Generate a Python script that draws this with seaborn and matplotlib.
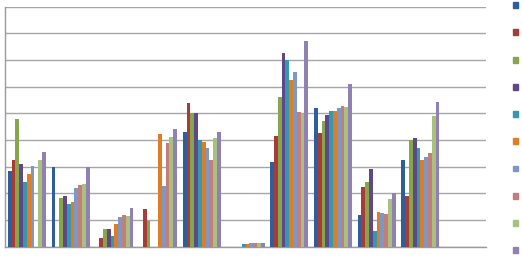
import numpy as np
import pandas as pd
import matplotlib
matplotlib.use("Agg")
import matplotlib.pyplot as plt
from matplotlib.patches import Patch
import seaborn as sns

categories = ["1", "2", "3", "4", "5", "6", "7", "8", "9", "10", "11"]
series_names = ["S1", "S2", "S3", "S4", "S5", "S6", "S7", "S8", "S9", "S10"]

s1 = [2.85, 2.98, 0.00, 0.00, 4.31, 0.00, 3.18, 5.21, 1.19, 3.25, 0]
s2 = [3.25, 0.00, 0.34, 1.43, 5.38, 0.00, 4.15, 4.25, 2.23, 1.90, 0]
s3 = [4.78, 1.84, 0.65, 0.96, 5.00, 0.00, 5.63, 4.71, 2.44, 4.00, 0]
s4 = [3.10, 1.91, 0.65, 0.00, 5.00, 0.00, 7.28, 4.95, 2.90, 4.09, 0]
s5 = [2.43, 1.61, 0.41, 0.00, 4.00, 0.12, 7.00, 5.10, 0.60, 3.69, 0]
s6 = [2.73, 1.69, 0.84, 4.23, 3.94, 0.12, 6.25, 5.10, 1.29, 3.25, 0]
s7 = [3.03, 2.21, 1.10, 2.28, 3.69, 0.13, 6.54, 5.20, 1.25, 3.38, 0]
s8 = [0.00, 2.30, 1.19, 3.90, 3.25, 0.15, 5.06, 5.28, 1.21, 3.50, 0]
s9 = [3.25, 2.35, 1.15, 4.10, 4.06, 0.15, 4.96, 5.25, 1.78, 4.90, 0]
s10 = [3.54, 2.98, 1.45, 4.43, 4.31, 0.15, 7.71, 6.10, 2.03, 5.41, 0]
all_series = [s1, s2, s3, s4, s5, s6, s7, s8, s9, s10]

colors = ["#2F5F9B", "#A63B37", "#87A54B", "#5F4888", "#3697B1",
          "#DD7D27", "#7B98C7", "#C37D7B", "#AAC17D", "#8F81B4"]

rows = []
for name, vals in zip(series_names, all_series):
    for c, v in zip(categories, vals):
        rows.append({"category": c, "series": name, "value": v})
df = pd.DataFrame(rows)

sns.set_style("white")
fig = plt.figure(figsize=(5.22, 2.58), dpi=100)
ax = fig.add_axes([5 / 522, 11.3 / 258, 481 / 522, 240 / 258])

sns.barplot(data=df, x="category", y="value", hue="series", order=categories,
            hue_order=series_names, palette=colors, width=10 / 11.5, gap=0,
            dodge=True, legend=False, ax=ax, saturation=1, linewidth=0, zorder=3)

ax.set_xlim(-0.5, len(categories) - 0.5)
ax.set_ylim(0, 9)
ax.set_yticks(np.arange(0, 10, 1))
ax.set_yticklabels([])
ax.set_xticks(np.arange(-0.5, len(categories), 1))
ax.set_xticklabels([])
ax.set_xlabel("")
ax.set_ylabel("")
ax.grid(axis="y", color="#A6A6A6", linewidth=1.0, zorder=0)
ax.set_axisbelow(True)
for side in ["top", "right"]:
    ax.spines[side].set_visible(False)
for side in ["left", "bottom"]:
    ax.spines[side].set_color("#9A9A9A")
    ax.spines[side].set_linewidth(1.0)
ax.tick_params(axis="both", direction="out", length=3, width=1, color="#9A9A9A")

handles = [Patch(facecolor=c, edgecolor=c) for c in colors]
fig.legend(handles=handles, labels=[""] * len(handles), loc="upper left",
           bbox_to_anchor=(512 / 522, 1.0), frameon=False, fontsize=8,
           handlelength=0.45, handleheight=0.45, labelspacing=1.55,
           handletextpad=0.0, borderpad=0.1, borderaxespad=0.0)

fig.savefig("out.png", dpi=100)
